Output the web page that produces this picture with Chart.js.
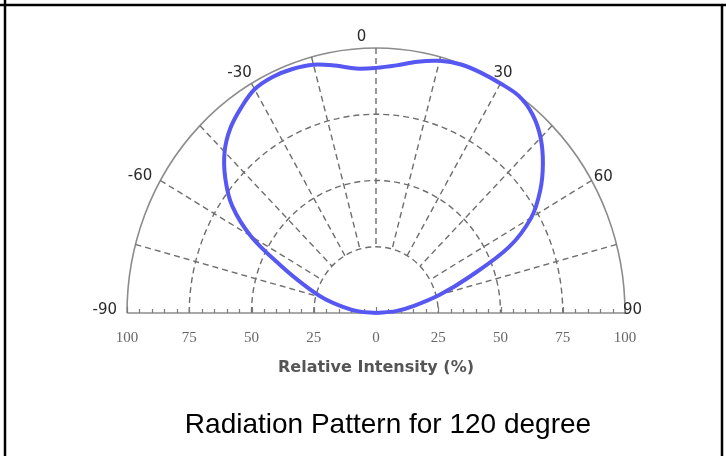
<!DOCTYPE html>
<html>
<head>
<meta charset="utf-8">
<script src="https://cdn.jsdelivr.net/npm/chart.js@4.4.1/dist/chart.umd.min.js"></script>
<style>
  html, body { margin: 0; padding: 0; background: #ffffff; }
  #wrap { width: 726px; height: 456px; position: relative; }
</style>
</head>
<body>
<div id="wrap"><canvas id="c" width="726" height="456"></canvas></div>
<script>
// ---- data ----
const angles = [-90,-85,-80,-75,-70,-65,-60,-55,-50,-45,-40,-35,-30,-25,-20,-15,-10,-5,0,5,10,15,20,25,30,35,40,45,50,55,60,65,70,75,80,85,90];
const intensity = [0,7,13.5,22,30.5,42,58,70.5,79,86,91,94.5,97.5,98.3,98,97,94.8,92.6,92.5,93.8,96.3,98.5,99.8,100,100,100,97.8,93.5,87.5,80.5,72,59,40,26.5,15.5,8,0];
const axisTickValues = [-100,-75,-50,-25,0,25,50,75,100];
const axisTickLabels = ['100','75','50','25','0','25','50','75','100'];
const ringValues = [25,50,75,100];
const spokeAngles = [-75,-60,-45,-30,-15,0,15,30,45,60,75];
const angleLabelAngles = [-90,-60,-30,0,30,60,90];
const angleLabelTexts = ['-90','-60','-30','0','30','60','90'];
const axisTitle = 'Relative Intensity (%)';
const chartTitle = 'Radiation Pattern for 120 degree';

const rad = d => d * Math.PI / 180;
const curvePoints = angles.map((a, i) => ({ x: intensity[i] * Math.sin(rad(a)), y: intensity[i] * Math.cos(rad(a)) }));

// label placement offsets (pixels) relative to the outer ring point
const labelPlacement = {
  '-90': { dx: -10, dy: -3, align: 'right' },
  '-60': { dx: -8, dy: -4, align: 'right' },
  '-30': { dx: -12, dy: -10.5, align: 'center' },
  '0':   { dx: -14.5, dy: -10.5, align: 'center' },
  '30':  { dx: 2.5, dy: -10, align: 'center' },
  '60':  { dx: 2, dy: -3.5, align: 'left' },
  '90':  { dx: -2, dy: -3, align: 'left' }
};

const polarGrid = {
  id: 'polarGrid',
  beforeDatasetsDraw(chart) {
    const ctx = chart.ctx;
    const xs = chart.scales.x, ys = chart.scales.y;
    const cx = xs.getPixelForValue(0), cy = ys.getPixelForValue(0);
    const ptAt = (r, a) => ({
      x: xs.getPixelForValue(r * Math.sin(rad(a))),
      y: ys.getPixelForValue(r * Math.cos(rad(a)))
    });
    ctx.save();
    // rings
    ringValues.forEach(r => {
      const rx = xs.getPixelForValue(r) - cx;
      const ry = cy - ys.getPixelForValue(r);
      ctx.beginPath();
      ctx.ellipse(cx, cy, rx, ry, 0, Math.PI, 2 * Math.PI);
      if (r === 100) {
        ctx.setLineDash([]);
        ctx.strokeStyle = '#8c8c8c';
        ctx.lineWidth = 1.6;
      } else {
        ctx.setLineDash([6, 4]);
        ctx.strokeStyle = '#6e6e6e';
        ctx.lineWidth = 1.4;
      }
      ctx.stroke();
    });
    // spokes
    ctx.setLineDash([6, 4]);
    ctx.strokeStyle = '#6e6e6e';
    ctx.lineWidth = 1.4;
    spokeAngles.forEach(a => {
      const p0 = ptAt(ringValues[0], a);
      const p1 = ptAt(100, a);
      ctx.beginPath();
      ctx.moveTo(p1.x, p1.y);
      ctx.lineTo(p0.x, p0.y);
      ctx.stroke();
    });
    // axis line with ticks
    ctx.setLineDash([]);
    ctx.strokeStyle = '#8c8c8c';
    ctx.lineWidth = 1.6;
    ctx.beginPath();
    ctx.moveTo(xs.getPixelForValue(-100), cy);
    ctx.lineTo(xs.getPixelForValue(100), cy);
    ctx.stroke();
    ctx.lineWidth = 1.2;
    ctx.strokeStyle = '#7a7a7a';
    for (let v = -100; v <= 100; v += 5) {
      const px = Math.round(xs.getPixelForValue(v)) + 0.5;
      const len = (v % 25 === 0) ? 6 : 4;
      ctx.beginPath();
      ctx.moveTo(px, cy);
      ctx.lineTo(px, cy - len);
      ctx.stroke();
    }
    // tick labels
    ctx.fillStyle = '#666666';
    ctx.font = '15px "Liberation Serif", "DejaVu Serif", serif';
    ctx.textAlign = 'center';
    ctx.textBaseline = 'middle';
    axisTickValues.forEach((v, i) => {
      ctx.fillText(axisTickLabels[i], xs.getPixelForValue(v), cy + 25);
    });
    // axis title
    ctx.fillStyle = '#555555';
    ctx.font = 'bold 16px "DejaVu Sans", sans-serif';
    ctx.fillText(axisTitle, cx, cy + 55);
    // angle labels
    ctx.fillStyle = '#2a2a2a';
    ctx.font = '15px "DejaVu Sans", sans-serif';
    angleLabelAngles.forEach((a, i) => {
      const t = angleLabelTexts[i];
      const p = ptAt(100, a);
      const pl = labelPlacement[t];
      ctx.textAlign = pl.align;
      ctx.fillText(t, p.x + pl.dx, p.y + pl.dy);
    });
    ctx.restore();
  },
  afterDraw(chart) {
    const ctx = chart.ctx;
    ctx.save();
    // chart title
    ctx.fillStyle = '#000000';
    ctx.font = '28px "Liberation Sans", Arial, sans-serif';
    ctx.textAlign = 'center';
    ctx.textBaseline = 'middle';
    ctx.fillText(chartTitle, 388, 425);
    // frame
    ctx.strokeStyle = '#000000';
    ctx.lineWidth = 2.5;
    ctx.beginPath();
    ctx.moveTo(0, 5); ctx.lineTo(726, 5);
    ctx.moveTo(5, 0); ctx.lineTo(5, 456);
    ctx.moveTo(722, 5); ctx.lineTo(722, 456);
    ctx.stroke();
    ctx.restore();
  }
};

new Chart(document.getElementById('c'), {
  type: 'scatter',
  data: {
    datasets: [{
      label: 'Relative Intensity',
      data: curvePoints,
      showLine: true,
      borderColor: '#5757f2',
      borderWidth: 4,
      pointRadius: 0,
      tension: 0.35,
      fill: false,
      clip: false
    }]
  },
  options: {
    responsive: false,
    animation: false,
    devicePixelRatio: 1,
    layout: { padding: { left: 127, right: 101, top: 48, bottom: 143 } },
    plugins: { legend: { display: false }, title: { display: false }, tooltip: { enabled: false } },
    scales: {
      x: { type: 'linear', min: -100, max: 100, display: false },
      y: { type: 'linear', min: 0, max: 100, display: false }
    }
  },
  plugins: [polarGrid]
});
</script>
</body>
</html>
